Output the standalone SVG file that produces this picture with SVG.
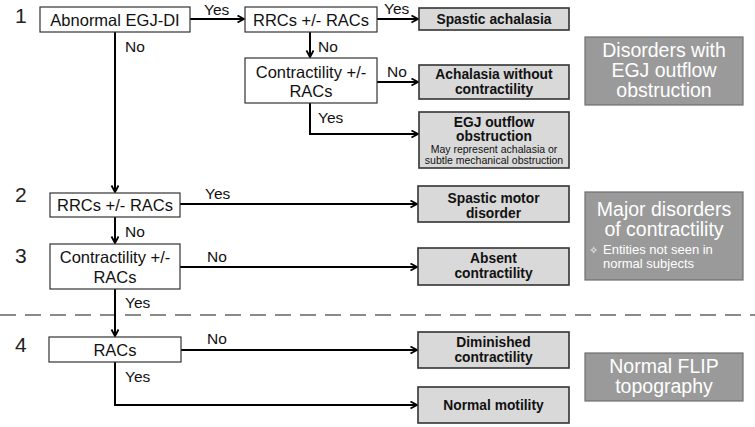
<svg xmlns="http://www.w3.org/2000/svg" width="755" height="427" viewBox="0 0 755 427">
<defs>
<marker id="arr" markerUnits="userSpaceOnUse" markerWidth="10" markerHeight="10" refX="7" refY="4" orient="auto">
<path d="M0.5,0.5 L7,4 L0.5,7.5" fill="none" stroke="#000" stroke-width="1.8"/>
</marker>
<style>
text{font-family:"Liberation Sans",Arial,sans-serif;}
.num{font-size:21px;fill:#222;}
.q{fill:#fff;stroke:#333;stroke-width:1.2;}
.qt{font-size:16.5px;fill:#111;text-anchor:middle;}
.r{fill:#d9d9d9;stroke:#333;stroke-width:1.6;}
.rt{font-size:13.8px;font-weight:bold;fill:#111;text-anchor:middle;}
.rs{font-size:10.5px;fill:#111;text-anchor:middle;}
.g{fill:#9a9a9a;stroke:#6e6e6e;stroke-width:1.2;}
.gt{font-size:19.5px;fill:#fff;text-anchor:middle;}
.gs{font-size:13px;fill:#fff;}
.lbl{font-size:15.5px;fill:#111;}
.c{fill:none;stroke:#000;stroke-width:2;}
</style>
</defs>
<rect width="755" height="427" fill="#fff"/>
<g id="divider"><line x1="0" y1="315" x2="755" y2="315" stroke="#8a8a8a" stroke-width="2" stroke-dasharray="16,9"/></g>
<g id="numbers">
<text class="num" x="15" y="23">1</text>
<text class="num" x="15" y="202">2</text>
<text class="num" x="15" y="263">3</text>
<text class="num" x="15" y="352">4</text>
</g>
<g id="connectors">
<line class="c" x1="190" y1="19" x2="244" y2="19" marker-end="url(#arr)"/>
<line class="c" x1="377" y1="19" x2="418" y2="19" marker-end="url(#arr)"/>
<line class="c" x1="310" y1="32" x2="310" y2="57" marker-end="url(#arr)"/>
<line class="c" x1="377" y1="82" x2="418" y2="82" marker-end="url(#arr)"/>
<polyline class="c" points="310,103 310,134 418,134" marker-end="url(#arr)"/>
<line class="c" x1="115" y1="32" x2="115" y2="192" marker-end="url(#arr)"/>
<line class="c" x1="180" y1="204" x2="417" y2="204" marker-end="url(#arr)"/>
<line class="c" x1="115" y1="217" x2="115" y2="243" marker-end="url(#arr)"/>
<line class="c" x1="180" y1="267" x2="417" y2="267" marker-end="url(#arr)"/>
<line class="c" x1="115" y1="289" x2="115" y2="336" marker-end="url(#arr)"/>
<line class="c" x1="181" y1="350" x2="417" y2="350" marker-end="url(#arr)"/>
<polyline class="c" points="115,362 115,405 417,405" marker-end="url(#arr)"/>
<text class="lbl" x="204" y="15">Yes</text>
<text class="lbl" x="384" y="14">Yes</text>
<text class="lbl" x="318" y="52">No</text>
<text class="lbl" x="387" y="77">No</text>
<text class="lbl" x="318" y="123">Yes</text>
<text class="lbl" x="125" y="52">No</text>
<text class="lbl" x="205" y="199">Yes</text>
<text class="lbl" x="125" y="237">No</text>
<text class="lbl" x="207" y="262">No</text>
<text class="lbl" x="125" y="308">Yes</text>
<text class="lbl" x="207" y="344">No</text>
<text class="lbl" x="125" y="382">Yes</text>
</g>
<g id="n-egjdi"><rect class="q" x="40" y="7" width="150" height="25"/><text class="qt" x="115" y="25.5">Abnormal EGJ-DI</text></g>
<g id="n-rrc1"><rect class="q" x="245" y="7" width="132" height="25"/><text class="qt" x="311" y="25.5">RRCs +/- RACs</text></g>
<g id="n-contr1"><rect class="q" x="245" y="58" width="132" height="45"/><text class="qt" x="311" y="78">Contractility +/-</text><text class="qt" x="311" y="97">RACs</text></g>
<g id="r-spach"><rect class="r" x="419" y="8" width="150" height="22"/><text class="rt" x="494" y="24">Spastic achalasia</text></g>
<g id="r-achnc"><rect class="r" x="419" y="65" width="150" height="34"/><text class="rt" x="494" y="78.5">Achalasia without</text><text class="rt" x="494" y="93.5">contractility</text></g>
<g id="r-egjoo"><rect class="r" x="419" y="112" width="150" height="56"/><text class="rt" x="494" y="126.5">EGJ outflow</text><text class="rt" x="494" y="141">obstruction</text><text class="rs" x="494" y="152.5">May represent achalasia or</text><text class="rs" x="494" y="163.5">subtle mechanical obstruction</text></g>
<g id="n-rrc2"><rect class="q" x="50" y="193" width="130" height="24"/><text class="qt" x="115" y="210.5">RRCs +/- RACs</text></g>
<g id="r-spmotor"><rect class="r" x="418" y="186" width="151" height="36"/><text class="rt" x="493.5" y="202.5">Spastic motor</text><text class="rt" x="493.5" y="217.5">disorder</text></g>
<g id="n-contr2"><rect class="q" x="50" y="244" width="130" height="45"/><text class="qt" x="115" y="263">Contractility +/-</text><text class="qt" x="115" y="283">RACs</text></g>
<g id="r-absent"><rect class="r" x="418" y="248" width="151" height="37"/><text class="rt" x="493.5" y="262.5">Absent</text><text class="rt" x="493.5" y="277.5">contractility</text></g>
<g id="n-racs"><rect class="q" x="49" y="337" width="132" height="25"/><text class="qt" x="115" y="356">RACs</text></g>
<g id="r-dimin"><rect class="r" x="418" y="332" width="151" height="36"/><text class="rt" x="493.5" y="346.5">Diminished</text><text class="rt" x="493.5" y="361.5">contractility</text></g>
<g id="r-normal"><rect class="r" x="418" y="387" width="151" height="36"/><text class="rt" x="493.5" y="410">Normal motility</text></g>
<g id="g-egjoo"><rect class="g" x="585" y="37" width="158" height="68"/><text class="gt" x="664" y="57">Disorders with</text><text class="gt" x="664" y="77">EGJ outflow</text><text class="gt" x="664" y="97">obstruction</text></g>
<g id="g-major"><rect class="g" x="585" y="192" width="158" height="88"/><text class="gt" x="664" y="216">Major disorders</text><text class="gt" x="664" y="236">of contractility</text><text class="gs" x="589" y="254"><tspan font-family="DejaVu Sans" font-size="11">✧</tspan><tspan x="603">Entities not seen in</tspan></text><text class="gs" x="603" y="268">normal subjects</text></g>
<g id="g-normal"><rect class="g" x="585" y="353" width="158" height="48"/><text class="gt" x="664" y="373">Normal FLIP</text><text class="gt" x="664" y="393">topography</text></g>
</svg>
